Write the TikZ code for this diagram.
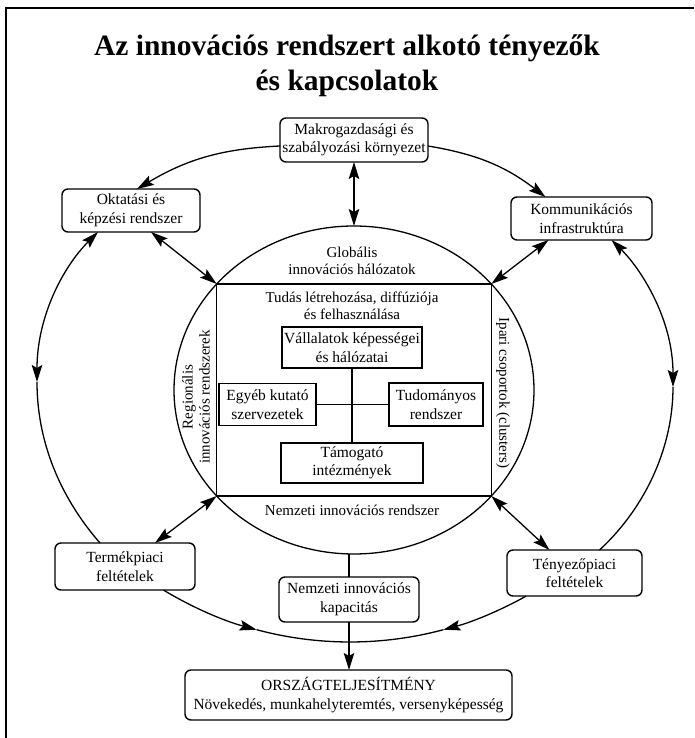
\documentclass[tikz,border=0pt]{standalone}
\usepackage{fontspec}
\setmainfont{Liberation Serif}
\usetikzlibrary{arrows.meta,calc}
\newcommand\boxfont{\fontsize{15.5}{18.5}\selectfont}
\newcommand\lblfont{\fontsize{15}{17}\selectfont}
\newcommand\ttlfont{\fontsize{29.5}{35}\selectfont\bfseries}
\begin{document}
\begin{tikzpicture}[x=1pt,y=1pt,
  every node/.style={inner sep=0pt, outer sep=0pt},
  rbox/.style={draw, line width=1.4pt, rounded corners=6pt, align=center, font=\boxfont},
  sbox/.style={draw, line width=1.3pt, align=center, font=\boxfont},
  lbl/.style={align=center, font=\lblfont},
  con/.style={line width=1.3pt},
  >={Stealth[length=17pt,width=10.5pt,inset=3pt]}]
\useasboundingbox (0,0) rectangle (694,738);
% frame
\draw[line width=1.3pt] (6,0) -- (6,730) -- (694,730);
% title
\node[font=\ttlfont, anchor=base] (t1) at (347,682) {Az innovációs rendszert alkotó tényezők};
\node[font=\ttlfont, anchor=base] (t2) at (347,647) {és kapcsolatok};
% outer boxes
\node[rbox, minimum width=148pt, minimum height=44pt] (makro) at (354,598) {Makrogazdasági és\\szabályozási környezet};
\node[rbox, minimum width=138pt, minimum height=43pt] (okt) at (131,527.5) {Oktatási és\\képzési rendszer};
\node[rbox, minimum width=141pt, minimum height=43pt] (komm) at (581.5,519.5) {Kommunikációs\\infrastruktúra};
\node[rbox, minimum width=140pt, minimum height=47pt] (term) at (125,171.5) {Termékpiaci\\feltételek};
\node[rbox, minimum width=135pt, minimum height=46pt] (teny) at (574.5,165) {Tényezőpiaci\\feltételek};
\node[rbox, minimum width=140pt, minimum height=45pt] (kap) at (349,138.5) {Nemzeti innovációs\\kapacitás};
\node[rbox, minimum width=327pt, minimum height=50pt] (orsz) at (348.5,43) {ORSZÁGTELJESÍTMÉNY\\Növekedés, munkahelyteremtés, versenyképesség};
% central ellipse and rectangle
\coordinate (ec) at (354,348);
\draw[con] (ec) ellipse[x radius=180, y radius=164];
\coordinate (tl) at (216.7,454);
\coordinate (tr) at (491.3,454);
\coordinate (bl) at (216.7,242);
\coordinate (br) at (491.3,242);
\draw[con] (tl) rectangle (br);
\coordinate (etop) at (354,512);
\coordinate (ebotref) at (354,184);
% inner boxes
\node[sbox, minimum width=140pt, minimum height=41pt] (vall) at (352,390.5) {Vállalatok képességei\\és hálózatai};
\node[sbox, minimum width=97pt, minimum height=42pt] (egyeb) at (267.5,333.5) {Egyéb kutató\\szervezetek};
\node[sbox, minimum width=94pt, minimum height=43pt] (tud) at (436,333.5) {Tudományos\\rendszer};
\node[sbox, minimum width=142pt, minimum height=40pt] (tam) at (352,275) {Támogató\\intézmények};
\draw[con] (vall.south) -- (tam.north);
\draw[con] (egyeb.east) -- (tud.west);
% labels
\node[lbl] (glob) at (352,477) {Globális\\innovációs hálózatok};
\node[lbl] (tudas) at (352,432) {Tudás létrehozása, diffúziója\\és felhasználása};
\node[lbl, rotate=90] (reg) at (196,341) {Regionális\\innovációs rendszerek};
\node[lbl, rotate=-90] (ipari) at (503,345) {Ipari csoportok (clusters)};
\node[lbl] (nemz) at (352,228) {Nemzeti innovációs rendszer};
% connectors
\draw[con,<->] (makro.south) -- (etop);
\draw[con,->] ([yshift=-6pt]makro.west) to[bend right=14] ([xshift=6pt]okt.north);
\draw[con,->] ([yshift=-6pt]makro.east) to[bend left=14] ([xshift=-36pt]komm.north);
\draw[con,<->] ([xshift=20pt]okt.south) -- (tl);
\draw[con,<->] ([xshift=-33pt]komm.south) -- (tr);
\draw[con,<->] ([xshift=30pt]term.north) -- (bl);
\draw[con,<->] ([xshift=-25pt]teny.north) -- (br);
% left big arc
\coordinate (lm) at (37,356);
\draw[con,<->] ([xshift=-33pt]okt.south) .. controls (62,470) and (37,420) .. (lm);
\draw[con] (lm) .. controls (37,290) and (65,235) .. ([xshift=-25pt]term.north);
% right big arc
\coordinate (rm) at (673,351);
\draw[con,<->] ([xshift=30pt]komm.south) .. controls (640,470) and (673,420) .. (rm);
\draw[con] (rm) .. controls (673,290) and (645,230) .. ([xshift=25pt]teny.north);
% bottom arc
\coordinate (bc) at (350,457);
\draw[con,->] ([shift={(238.9:361)}]bc) arc[start angle=238.9, end angle=255, radius=361];
\draw[con] ([shift={(255:361)}]bc) arc[start angle=255, end angle=285, radius=361];
\draw[con,->] ([shift={(299.2:361)}]bc) arc[start angle=299.2, end angle=285, radius=361];
% national capacity
\draw[con] (kap.north) -- (kap.north |- ebotref);
\draw[con,->] (kap.south) -- (kap.south |- orsz.north);
\end{tikzpicture}
\end{document}
